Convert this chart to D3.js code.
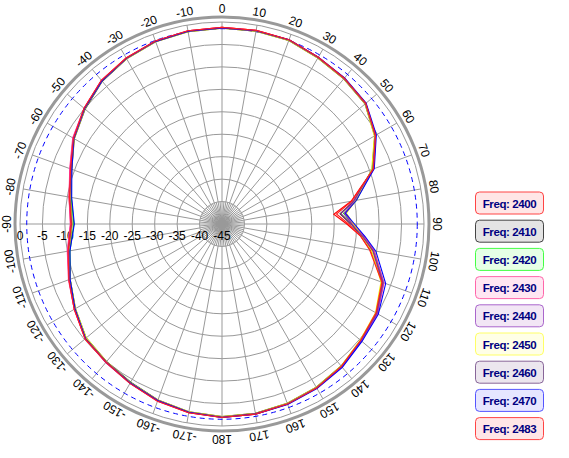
<!DOCTYPE html>
<html><head><meta charset="utf-8">
<script src="https://d3js.org/d3.v7.min.js"></script>
<style>body{margin:0;background:#fff}svg{display:block}</style>
</head><body>
<svg id="c" width="569" height="458"></svg>
<script>
const angles=[-170,-160,-150,-140,-130,-120,-110,-100,-90,-80,-70,-60,-50,-40,-30,-20,-10,0,10,20,30,40,50,60,70,80,85,90,95,100,110,120,130,140,150,160,170,180];
const f2400=[-2.3,-3.1,-4.0,-4.8,-5.2,-7.0,-8.7,-10.1,-11.3,-10.4,-9.0,-6.7,-4.9,-3.2,-2.3,-1.6,-1.3,-1.2,-1.2,-1.3,-2.1,-2.6,-3.2,-5.5,-9.1,-15.8,-20.0,-17.2,-14.0,-11.4,-7.0,-5.3,-4.6,-3.5,-2.8,-2.3,-2.0,-1.9];
const f2410=[-2.5,-3.3,-4.3,-5.0,-5.5,-7.3,-9.0,-10.5,-11.6,-10.8,-9.4,-7.0,-5.2,-3.5,-2.5,-1.8,-1.5,-1.4,-1.4,-1.5,-2.3,-2.8,-3.4,-5.7,-9.4,-15.0,-18.6,-16.3,-13.7,-10.8,-6.8,-5.2,-4.6,-3.7,-3.0,-2.5,-2.2,-2.1];
const f2420=[-2.4,-3.2,-4.2,-4.9,-5.4,-7.2,-9.0,-10.6,-12.0,-10.9,-9.3,-6.9,-5.0,-3.3,-2.4,-1.7,-1.4,-1.3,-1.3,-1.4,-2.2,-2.7,-3.3,-5.6,-9.3,-14.6,-17.8,-16.0,-13.3,-10.6,-6.7,-5.1,-4.5,-3.6,-2.9,-2.4,-2.1,-2.0];
const f2430=[-2.3,-3.0,-4.0,-4.7,-5.2,-7.0,-8.6,-10.0,-11.2,-10.4,-8.9,-6.6,-4.9,-3.2,-2.3,-1.6,-1.3,-1.2,-1.2,-1.3,-2.1,-2.6,-3.2,-5.5,-9.0,-14.8,-17.6,-15.8,-13.2,-10.6,-6.6,-5.0,-4.4,-3.4,-2.8,-2.3,-2.0,-1.9];
const f2440=[-2.4,-3.2,-4.1,-4.9,-5.3,-7.1,-8.8,-10.3,-11.5,-10.6,-9.2,-6.8,-5.0,-3.3,-2.4,-1.7,-1.4,-1.3,-1.3,-1.4,-2.2,-2.7,-3.3,-5.6,-9.2,-15.0,-17.6,-16.0,-13.5,-10.8,-6.8,-5.1,-4.5,-3.5,-2.9,-2.4,-2.1,-2.0];
const f2450=[-2.5,-3.3,-4.2,-5.0,-5.5,-7.3,-9.0,-10.4,-11.6,-10.7,-9.3,-7.0,-5.1,-3.4,-2.5,-1.8,-1.5,-1.4,-1.4,-1.5,-2.3,-2.8,-3.4,-5.8,-9.5,-14.7,-17.2,-15.7,-13.7,-11.2,-7.3,-5.5,-4.8,-3.7,-3.0,-2.5,-2.2,-2.1];
const f2460=[-2.4,-3.2,-4.1,-4.9,-5.3,-7.1,-8.8,-10.3,-11.5,-10.6,-9.2,-6.9,-5.0,-3.3,-2.4,-1.7,-1.4,-1.3,-1.3,-1.4,-2.2,-2.7,-3.3,-5.6,-9.2,-15.2,-18.4,-16.2,-13.6,-10.9,-6.9,-5.2,-4.6,-3.6,-2.9,-2.4,-2.1,-2.0];
const f2470=[-2.4,-3.1,-4.1,-4.8,-5.3,-7.2,-9.0,-10.6,-12.1,-11.0,-9.4,-6.9,-5.0,-3.4,-2.4,-1.7,-1.4,-1.3,-1.3,-1.3,-2.1,-2.5,-3.1,-5.3,-8.9,-14.6,-17.4,-15.5,-13.0,-10.2,-6.2,-4.8,-4.3,-3.3,-2.7,-2.2,-2.0,-1.9];
const f2483=[-2.3,-3.0,-4.0,-4.8,-5.2,-7.0,-8.7,-10.2,-11.4,-10.5,-9.1,-6.8,-4.9,-3.2,-2.3,-1.6,-1.3,-1.2,-1.2,-1.3,-2.1,-2.6,-3.2,-5.5,-9.1,-15.6,-19.4,-16.8,-14.0,-11.6,-7.1,-5.4,-4.7,-3.6,-2.8,-2.3,-2.0,-1.9];
const freqs=["2400","2410","2420","2430","2440","2450","2460","2470","2483"];
const series=[f2400,f2410,f2420,f2430,f2440,f2450,f2460,f2470,f2483];
const colors=["#ff0000","#303030","#00dd00","#ff3399","#9933cc","#eeee00","#883388","#0000ff","#ff2020"];
const fills=["#ffe6e6","#e4e4e4","#e6ffe6","#ffe6f2","#f2e6f5","#ffffe6","#ece6ee","#e6e6ff","#ffe6e6"];
const borders=["#ff4444","#444444","#44ff44","#ff66aa","#aa66cc","#ffff66","#886699","#5555ff","#ff4444"];
const ringLabels=["0","-5","-10","-15","-20","-25","-30","-35","-40","-45"];
const maxGain=-1.5;

const svg=d3.select("#c");
const cx=222,cy=224,R=202;
const r=d3.scaleLinear().domain([-45,0]).range([0,R]);
const g=svg.append("g").attr("transform",`translate(${cx},${cy})`);
const rad=a=>a*Math.PI/180;
d3.range(-40,1,5).forEach(v=>g.append("circle").attr("r",r(v)).attr("fill","none").attr("stroke","#999").attr("stroke-width",1));
d3.range(0,360,10).forEach(a=>g.append("line").attr("x1",0).attr("y1",0)
 .attr("x2",R*Math.sin(rad(a))).attr("y2",-R*Math.cos(rad(a))).attr("stroke","#999").attr("stroke-width",1));
d3.range(5,360,10).forEach(a=>g.append("line").attr("x1",0).attr("y1",0)
 .attr("x2",r(-40)*Math.sin(rad(a))).attr("y2",-r(-40)*Math.cos(rad(a))).attr("stroke","#999").attr("stroke-width",1));
g.append("circle").attr("r",207).attr("fill","none").attr("stroke","#999").attr("stroke-width",3);
g.append("circle").attr("r",r(maxGain)).attr("fill","none").attr("stroke","#0000ff").attr("stroke-dasharray","5,4").attr("stroke-width",1);
ringLabels.forEach(t=>g.append("text").attr("x",-r(+t)).attr("y",16).attr("text-anchor","middle")
 .attr("font-family","Arial, Liberation Sans, sans-serif").attr("font-size",12).text(t));
d3.range(-170,181,10).forEach(a=>g.append("text").attr("transform",`rotate(${a}) translate(0,-211)`)
 .attr("text-anchor","middle").attr("font-family","Arial, Liberation Sans, sans-serif").attr("font-size",12).attr("fill","#000").text(a));
const line=d3.lineRadial().angle((d,i)=>rad(angles[i])).radius(d=>r(d)).curve(d3.curveLinearClosed);
series.forEach((s,k)=>g.append("path").attr("d",line(s)).attr("fill","none").attr("stroke",colors[k]).attr("stroke-width",1.1));
const lg=svg.append("g");
freqs.forEach((f,i)=>{
 const y=192+i*28.2;
 lg.append("rect").attr("x",475.5).attr("y",y).attr("width",68).attr("height",22).attr("rx",4)
  .attr("fill",fills[i]).attr("stroke",borders[i]);
 lg.append("text").attr("x",509.5).attr("y",y+15.5).attr("text-anchor","middle")
  .attr("font-family","Arial, Liberation Sans, sans-serif").attr("font-size",11.5).attr("font-weight","bold")
  .attr("fill","#000080").attr("letter-spacing","-0.4").text("Freq: "+f);
});
</script>
</body></html>
